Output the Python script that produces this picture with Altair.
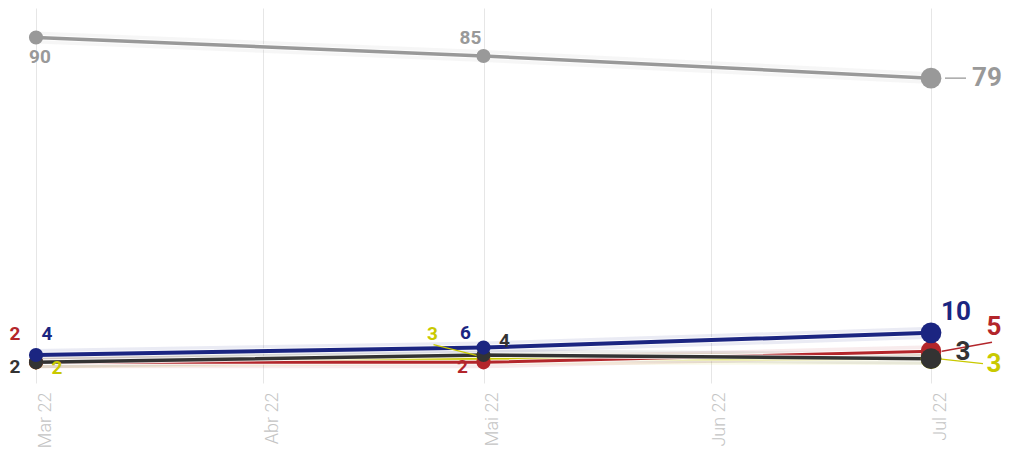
import altair as alt
import pandas as pd

# ---- data ----
dates = ["2022-03-01", "2022-05-01", "2022-07-01"]
series_names = ["cinza", "amarelo", "vermelho", "preto", "azul"]
gray_vals = [90, 85, 79]
yellow_vals = [2, 3, 3]
red_vals = [2, 2, 5]
black_vals = [2, 4, 3]
navy_vals = [4, 6, 10]
month_labels = ["Jan", "Fev", "Mar", "Abr", "Mai", "Jun", "Jul", "Ago", "Set", "Out", "Nov", "Dez"]

# ---- styles ----
colors = {"cinza": "#999999", "amarelo": "#c9c900", "vermelho": "#b3262b",
          "preto": "#333333", "azul": "#1b2581"}
line_widths = {"cinza": 3.5, "amarelo": 3, "vermelho": 3, "preto": 3.5, "azul": 4}
# label pixel offsets (dx, dy) for each series/point
label_offsets = {
    "cinza":    [(4, 19), (-13, -18), (56, 0)],
    "amarelo":  [(21, 6), (-51, -25), (63, 5)],
    "vermelho": [(-21, -28), (-21, 5), (63, -24)],
    "preto":    [(-21, 5), (21, -14), (32, -7)],
    "azul":     [(11, -21), (-18, -15), (25, -21)],
}
# leader lines: series -> (point index, xOff, yOff, x2Off, y2Off)
leaders = [
    ("cinza", 2, 14, 0, 35, 0),
    ("vermelho", 2, 11, 0, 61, -9),
    ("amarelo", 2, 6, 0, 52, 5),
    ("amarelo", 1, -2, -2, -50, -14),
]

values = {"cinza": gray_vals, "amarelo": yellow_vals, "vermelho": red_vals,
          "preto": black_vals, "azul": navy_vals}

rows = []
for s in series_names:
    for i, (d, v) in enumerate(zip(dates, values[s])):
        last = i == len(dates) - 1
        rows.append(dict(series=s, date=d, value=v, idx=i, psize=430 if last else 200))
df = pd.DataFrame(rows)

months_js = "[" + ",".join(f"'{m}'" for m in month_labels) + "]"

x_enc = alt.X(
    "date:T",
    scale=alt.Scale(type="utc", domain=[alt.DateTime(year=2022, month=3, date=1, utc=True),
                                        alt.DateTime(year=2022, month=7, date=1, utc=True)]),
    axis=alt.Axis(
        values=[alt.DateTime(year=2022, month=m, date=1, utc=True) for m in range(3, 8)],
        labelExpr=months_js + "[utcmonth(datum.value)] + ' ' + utcFormat(datum.value, '%y')",
        labelAngle=-90, labelAlign="right", labelBaseline="top",
        labelFont="Roboto", labelFontWeight=300, labelFontSize=18, labelColor="#c4c4c4",
        labelPadding=9, ticks=False, domain=False, grid=True,
        gridColor="#e6e6e6", gridWidth=1, title=None,
    ),
)
y_enc = alt.Y("value:Q", scale=alt.Scale(domain=[-3.6, 98], nice=False, zero=False), axis=None)
color_enc = alt.Color("series:N", scale=alt.Scale(domain=list(colors.keys()),
                                                  range=list(colors.values())), legend=None)

base = alt.Chart(df)
layers = []
for s in series_names:
    sub = base.transform_filter(alt.datum.series == s)
    layers.append(sub.mark_line(strokeWidth=12, opacity=0.09, color=colors[s], strokeCap="round")
                  .encode(x=x_enc, y=y_enc))
for s in series_names:
    sub = base.transform_filter(alt.datum.series == s)
    layers.append(sub.mark_line(strokeWidth=line_widths[s] + 2, color="white", opacity=0.8)
                  .encode(x=x_enc, y=y_enc))
    layers.append(sub.mark_line(strokeWidth=line_widths[s], color=colors[s])
                  .encode(x=x_enc, y=y_enc))

for s, i, xo, yo, x2o, y2o in leaders:
    layers.append(
        base.transform_filter((alt.datum.series == s) & (alt.datum.idx == i))
        .mark_rule(color=colors[s], strokeWidth=1.3, xOffset=xo, yOffset=yo,
                   x2Offset=x2o, y2Offset=y2o)
        .encode(x=x_enc, y=y_enc, x2="date:T", y2="value:Q")
    )

layers.append(base.mark_circle(opacity=1).encode(
    x=x_enc, y=y_enc, color=color_enc, size=alt.Size("psize:Q", scale=None)))

for s in series_names:
    for i in range(len(dates)):
        dx, dy = label_offsets[s][i]
        fs = 26 if i == len(dates) - 1 else 19
        layers.append(
            base.transform_filter((alt.datum.series == s) & (alt.datum.idx == i))
            .mark_text(font="Roboto", fontWeight="bold", align="center", baseline="middle",
                       dx=dx, dy=dy, fontSize=fs, color=colors[s])
            .encode(x=x_enc, y=y_enc, text="value:Q")
        )

chart = alt.layer(*layers).properties(
    width=895, height=375,
    autosize=alt.AutoSizeParams(type="none"),
    padding={"left": 28, "top": 0, "right": 71, "bottom": 66},
).configure_view(stroke=None)

chart.save("out.html", embed_options={"renderer": "svg", "actions": False})
